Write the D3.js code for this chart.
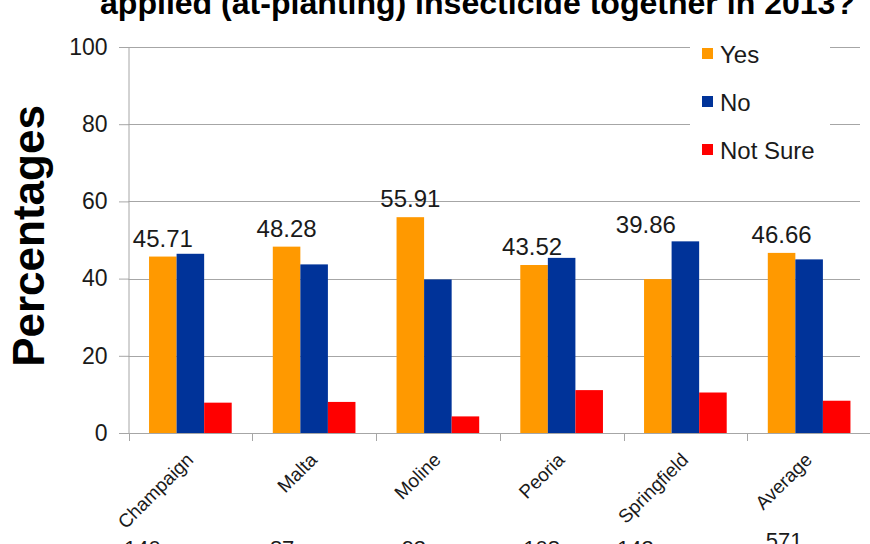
<!DOCTYPE html>
<html>
<head>
<meta charset="utf-8">
<script src="https://cdn.jsdelivr.net/npm/d3@7"></script>
<style>
  html, body { margin: 0; padding: 0; background: #fff; }
  svg { display: block; font-family: "Liberation Sans", Arial, sans-serif; }
</style>
</head>
<body>
<svg id="chart" width="870" height="544"></svg>
<script>
// Survey results by location (percent of respondents)
const categories = ["Champaign", "Malta", "Moline", "Peoria", "Springfield", "Average"];
const seriesNames = ["Yes", "No", "Not Sure"];
const yesValues = [45.71, 48.28, 55.91, 43.52, 39.86, 46.66];
const noValues = [46.43, 43.68, 39.78, 45.37, 49.65, 44.98];
const notSureValues = [7.86, 8.05, 4.30, 11.11, 10.49, 8.36];
const respondents = ["140", "87", "93", "108", "143", "571"];
const yTicks = [0, 20, 40, 60, 80, 100];
const titleText = "applied (at-planting) insecticide together in 2013?";
const yAxisTitle = "Percentages";

const colors = { "Yes": "#FF9900", "No": "#003399", "Not Sure": "#FF0000" };
const seriesValues = { "Yes": yesValues, "No": noValues, "Not Sure": notSureValues };

const svg = d3.select("#chart");
const plotLeft = 128.5, plotRight = 871, plotTop = 47, plotBottom = 433;

const y = d3.scaleLinear().domain([0, 100]).range([plotBottom, plotTop]);
const x0 = d3.scaleBand().domain(categories).range([plotLeft, plotRight]).padding(0);
const bw = x0.bandwidth();
const x1 = d3.scaleBand().domain(seriesNames).range([bw * 0.166, bw * 0.834]).padding(0);

// horizontal gridlines
svg.append("g").selectAll("line").data(yTicks.filter(t => t > 0)).join("line")
  .attr("x1", plotLeft).attr("x2", 860)
  .attr("y1", d => Math.round(y(d)) + 0.5).attr("y2", d => Math.round(y(d)) + 0.5)
  .attr("stroke", "#a6a6a6").attr("stroke-width", 1);

// bars
const groups = svg.append("g").selectAll("g").data(categories).join("g")
  .attr("transform", d => `translate(${x0(d)},0)`);
groups.selectAll("rect")
  .data((c, i) => seriesNames.map(s => ({ s, v: seriesValues[s][i] })))
  .join("rect")
  .attr("x", d => x1(d.s))
  .attr("width", x1.bandwidth())
  .attr("y", d => y(d.v))
  .attr("height", d => y(0) - y(d.v))
  .attr("fill", d => colors[d.s]);

// value labels above the "Yes" bars, kept clear of the neighbouring "No" bar
const labelNudgeX = [0, 0, 0, -2, -12, 0];
const labelNudgeY = [0, 0, 0, 0, -5, 0];
groups.append("text")
  .attr("x", (c, i) => x1("Yes") + x1.bandwidth() / 2 + labelNudgeX[i])
  .attr("y", (c, i) => Math.min(y(yesValues[i]) - 10, y(noValues[i]) - 3) + labelNudgeY[i])
  .attr("text-anchor", "middle")
  .attr("font-size", 24)
  .attr("fill", "#1a1a1a")
  .text((c, i) => yesValues[i].toFixed(2));

// y axis
const yAxis = d3.axisLeft(y).tickValues(yTicks).tickSize(10).tickPadding(11);
const gy = svg.append("g").attr("transform", `translate(${plotLeft},0)`).call(yAxis);
gy.select(".domain").attr("stroke", "#a6a6a6").attr("d", `M0.5,${plotTop}V${plotBottom}`);
gy.selectAll(".tick line").attr("stroke", "#a6a6a6").attr("x1", 0.5).attr("x2", -9.5);
gy.selectAll(".tick text").attr("font-size", 23).attr("fill", "#1a1a1a")
  .attr("font-family", "Liberation Sans, Arial, sans-serif");

// x axis baseline and category separators
svg.append("line").attr("x1", plotLeft).attr("x2", plotRight)
  .attr("y1", plotBottom + 0.5).attr("y2", plotBottom + 0.5).attr("stroke", "#a6a6a6");
svg.append("g").selectAll("line").data(categories).join("line")
  .attr("x1", d => Math.round(x0(d)) + 0.5).attr("x2", d => Math.round(x0(d)) + 0.5)
  .attr("y1", plotBottom).attr("y2", plotBottom + 8).attr("stroke", "#a6a6a6");

// category labels, rotated
svg.append("g").selectAll("text").data(categories).join("text")
  .attr("transform", d => `translate(${x0(d) + bw / 2 + 4},${plotBottom + 28}) rotate(-45)`)
  .attr("text-anchor", "end")
  .attr("font-size", 19)
  .attr("fill", "#1a1a1a")
  .text(d => d);

// respondent counts under the labels
const countShift = [-48, -32, -24, -20, -50, -25];
const countBase = [556, 556, 556, 556, 556, 548];
svg.append("g").selectAll("text").data(respondents).join("text")
  .attr("x", (d, i) => x0(categories[i]) + bw / 2 + countShift[i])
  .attr("y", (d, i) => countBase[i])
  .attr("text-anchor", "middle")
  .attr("font-size", 22)
  .attr("fill", "#1a1a1a")
  .text(d => d);

// y axis title
svg.append("text")
  .attr("transform", "translate(44,236) rotate(-90)")
  .attr("text-anchor", "middle")
  .attr("font-size", 44)
  .attr("font-weight", "bold")
  .attr("fill", "#000")
  .text(yAxisTitle);

// chart title (runs past the top edge)
svg.append("text")
  .attr("x", 100).attr("y", 14)
  .attr("font-size", 32)
  .attr("font-weight", "bold")
  .attr("fill", "#000")
  .attr("textLength", 755)
  .attr("lengthAdjust", "spacingAndGlyphs")
  .text(titleText);

// legend
const legend = svg.append("g");
legend.append("rect").attr("x", 690).attr("y", 32).attr("width", 140).attr("height", 140).attr("fill", "#fff");
const rows = legend.selectAll("g").data(seriesNames).join("g")
  .attr("transform", (d, i) => `translate(702,${54 + i * 48})`);
rows.append("rect").attr("x", 0).attr("y", -6).attr("width", 11).attr("height", 11)
  .attr("fill", d => colors[d]);
rows.append("text").attr("x", 18).attr("y", 8.5)
  .attr("font-size", 24).attr("fill", "#1a1a1a")
  .text(d => d);
</script>
</body>
</html>
